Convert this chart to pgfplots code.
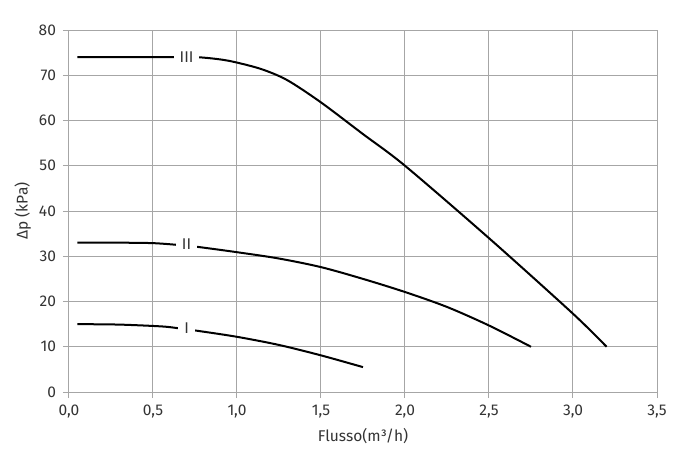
\documentclass[border=0pt]{standalone}
\usepackage{fontspec}
\setmainfont{Fira Sans}
\usepackage{pgfplots}
\pgfplotsset{compat=1.18}

\definecolor{gridgray}{HTML}{A6A6A6}
\definecolor{txt}{HTML}{333333}

\begin{document}
\begin{tikzpicture}
\begin{axis}[
    scale only axis,
    width=294bp, height=181bp,
    xmin=0, xmax=3.5, ymin=0, ymax=80,
    xtick={0,0.5,...,3.5},
    ytick={0,10,...,80},
    grid=major,
    grid style={gridgray, line width=0.5bp},
    axis line style={gridgray, line width=0.5bp},
    tick style={gridgray, line width=0.5bp},
    tick align=outside,
    major tick length=3bp,
    xtick pos=bottom, ytick pos=left,
    tick label style={font=\fontsize{7.8}{9}\selectfont, text=txt},
    /pgf/number format/assume math mode=true,
    x tick label style={/pgf/number format/.cd, use comma, fixed, fixed zerofill, precision=1},
    label style={font=\fontsize{7.8}{9}\selectfont, text=txt},
    xlabel={Flusso(m³/h)},
    ylabel={Δp (kPa)},
    xlabel style={yshift=2bp},
    ylabel style={yshift=-3bp},
    clip=false,
]
% curve III
\addplot[black, line width=1bp, smooth, tension=0.5] coordinates {
  (0.05,74) (0.3,74) (0.6,74) (0.76,74) (0.9,73.5) (1.0,72.8)
  (1.15,71.3) (1.3,68.9) (1.5,64) (1.75,57) (2.0,50)
  (2.5,34) (3.0,17.3) (3.2,10)
};
% curve II
\addplot[black, line width=1bp, smooth, tension=0.5] coordinates {
  (0.05,33) (0.3,33) (0.5,32.9) (0.65,32.5) (0.76,32.1) (1.0,30.9)
  (1.25,29.5) (1.5,27.6) (1.75,25) (2.0,22.1) (2.25,18.8) (2.5,14.7) (2.75,10)
};
% curve I
\addplot[black, line width=1bp, smooth, tension=0.5] coordinates {
  (0.05,15) (0.3,14.9) (0.55,14.5) (0.65,14.1) (0.77,13.5) (1.0,12.2)
  (1.25,10.4) (1.5,8.1) (1.75,5.5)
};
\node[fill=white, inner xsep=3bp, inner ysep=1bp, text=txt,
      font=\fontsize{7.8}{9}\selectfont] at (axis cs:0.7,74) {III};
\node[fill=white, inner xsep=3bp, inner ysep=1bp, text=txt,
      font=\fontsize{7.8}{9}\selectfont] at (axis cs:0.7,32.6) {II};
\node[fill=white, inner xsep=3bp, inner ysep=1bp, text=txt,
      font=\fontsize{7.8}{9}\selectfont] at (axis cs:0.7,14.2) {I};
\path (rel axis cs:-0.1173,-0.1657) rectangle (rel axis cs:1.0476,1.0829);
\end{axis}
\end{tikzpicture}
\end{document}
